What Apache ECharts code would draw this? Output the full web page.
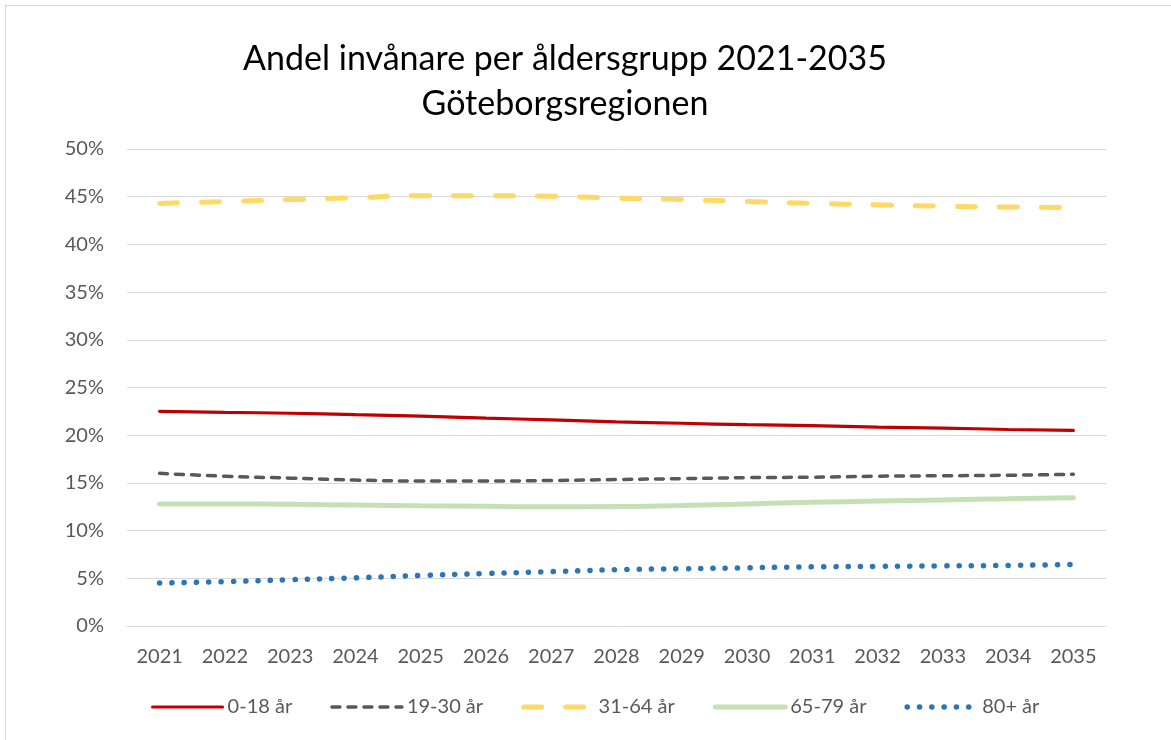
<!DOCTYPE html>
<html>
<head>
<meta charset="utf-8">
<script src="https://cdn.jsdelivr.net/npm/echarts@6/dist/echarts.min.js"></script>
<style>
  html, body { margin: 0; padding: 0; background: #fff; overflow: hidden; }
  #frame {
    position: absolute; left: 5px; top: 5px; width: 1300px; height: 900px;
    border: 1px solid #d9d9d9; box-sizing: border-box;
  }
  #chart { position: absolute; left: 0; top: 0; width: 1171px; height: 740px; }
</style>
</head>
<body>
<div id="frame"></div>
<div id="chart"></div>
<script>
// år
const years = ['2021', '2022', '2023', '2024', '2025', '2026', '2027', '2028',
  '2029', '2030', '2031', '2032', '2033', '2034', '2035']

// andel i procent per åldersgrupp
const age0_18 = [22.5, 22.4, 22.3, 22.15, 22.0, 21.8, 21.6, 21.4, 21.25, 21.1, 21.0, 20.85, 20.75, 20.6, 20.5]
const age19_30 = [16.0, 15.7, 15.5, 15.3, 15.2, 15.2, 15.25, 15.35, 15.45, 15.55, 15.6, 15.7, 15.75, 15.8, 15.9]
const age31_64 = [44.3, 44.5, 44.7, 44.9, 45.1, 45.1, 45.05, 44.85, 44.7, 44.5, 44.3, 44.15, 44.0, 43.92, 43.87]
const age65_79 = [12.8, 12.8, 12.75, 12.68, 12.6, 12.54, 12.5, 12.52, 12.64, 12.8, 12.96, 13.1, 13.22, 13.33, 13.45]
const age80 = [4.5, 4.65, 4.85, 5.05, 5.3, 5.5, 5.7, 5.9, 6.0, 6.1, 6.2, 6.25, 6.3, 6.35, 6.45]

const font = 'Lato, "Open Sans", sans-serif'

const makeSeries = (name, data, color, width, dash) => ({
  name,
  type: 'line',
  data,
  smooth: true,
  symbol: 'circle',
  showSymbol: false,
  lineStyle: {
    color,
    width,
    type: dash || 'solid',
    cap: 'round'
  },
  itemStyle: { color }
})

const chart = echarts.init(document.getElementById('chart'), null, { renderer: 'canvas' })

chart.setOption({
  animation: false,
  title: {
    text: 'Andel invånare per åldersgrupp 2021-2035\nGöteborgsregionen',
    left: 565,
    top: 37,
    padding: 0,
    textAlign: 'center',
    textStyle: {
      fontFamily: font,
      fontSize: 34,
      fontWeight: 'normal',
      color: '#000',
      lineHeight: 45
    }
  },
  legend: {
    left: 146,
    top: 692,
    itemWidth: 70,
    itemHeight: 14,
    itemGap: 38,
    itemStyle: { opacity: 0 },
    lineStyle: { width: 'inherit', cap: 'round' },
    textStyle: { fontFamily: font, fontSize: 20, color: '#595959' },
    data: ['0-18 år', '19-30 år', '31-64 år', '65-79 år', '80+ år']
  },
  grid: {
    left: 127,
    right: 65,
    top: 149,
    bottom: 114
  },
  xAxis: {
    type: 'category',
    data: years,
    boundaryGap: true,
    axisLine: { lineStyle: { color: '#d9d9d9', width: 1 } },
    axisTick: { show: false },
    axisLabel: { fontFamily: font, fontSize: 20, color: '#595959', margin: 21 }
  },
  yAxis: {
    type: 'value',
    min: 0,
    max: 50,
    interval: 5,
    axisLine: { show: false },
    axisTick: { show: false },
    axisLabel: { fontFamily: font, fontSize: 20, color: '#595959', margin: 23, formatter: '{value}%' },
    splitLine: { lineStyle: { color: '#d9d9d9', width: 1 } }
  },
  series: [
    makeSeries('0-18 år', age0_18, '#C00000', 3.2),
    makeSeries('19-30 år', age19_30, '#595959', 3.5, [8, 8]),
    makeSeries('31-64 år', age31_64, '#FFD966', 5, [18, 24]),
    makeSeries('65-79 år', age65_79, '#C5E0B4', 5),
    makeSeries('80+ år', age80, '#2E75B6', 5.5, [0.1, 12.2])
  ]
})
</script>
</body>
</html>
